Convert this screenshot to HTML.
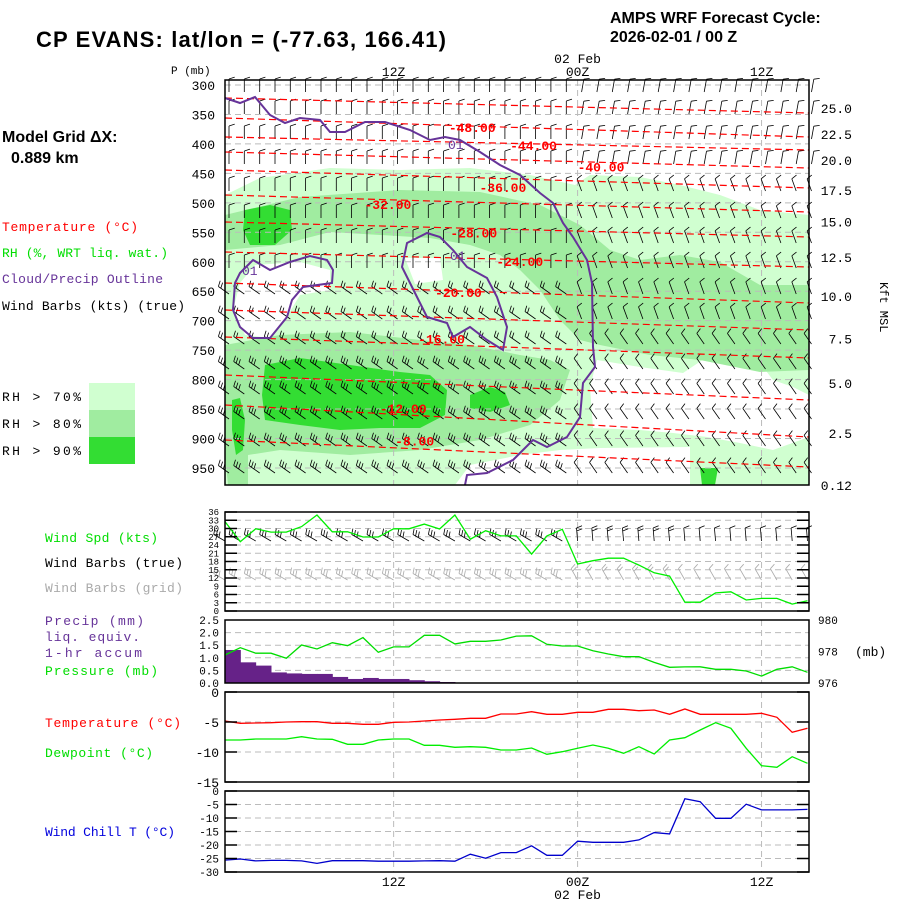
<!DOCTYPE html>
<html><head><meta charset="utf-8"><style>
html,body{margin:0;padding:0;background:#fff;}
svg{display:block;}
text{font-family:"Liberation Mono",monospace;}
.t{font-family:"Liberation Sans",sans-serif;font-weight:bold;}
</style></head><body>
<svg id="chart" xmlns="http://www.w3.org/2000/svg" width="900" height="900" viewBox="0 0 900 900">
<rect x="0" y="0" width="900" height="900" fill="#fff"/>
<text class="t" x="36" y="47" font-size="22" textLength="410">CP EVANS:  lat/lon = (-77.63, 166.41)</text>
<text class="t" x="610" y="23" font-size="16">AMPS WRF Forecast Cycle:</text>
<text class="t" x="610" y="42" font-size="16">2026-02-01 / 00  Z</text>
<text class="t" x="2" y="142" font-size="16">Model Grid ΔX:</text>
<text class="t" x="11" y="163" font-size="16">0.889 km</text>
<g font-size="13">
<text x="2" y="231" fill="#ff0000" textLength="136">Temperature (°C)</text>
<text x="2" y="257" fill="#00dd00" textLength="166">RH (%, WRT liq. wat.)</text>
<text x="2" y="283" fill="#663399" textLength="161">Cloud/Precip Outline</text>
<text x="2" y="310" fill="#000" textLength="183">Wind Barbs (kts) (true)</text>
<text x="2" y="401" fill="#000" textLength="79">RH &gt; 70%</text>
<text x="2" y="428" fill="#000" textLength="79">RH &gt; 80%</text>
<text x="2" y="455" fill="#000" textLength="79">RH &gt; 90%</text>
<rect x="89" y="383" width="46" height="27" fill="#d0ffd0"/>
<rect x="89" y="410" width="46" height="27" fill="#a0eca0"/>
<rect x="89" y="437" width="46" height="27" fill="#33dd33"/>
</g>
<g font-size="13">
<text x="45" y="542" fill="#00dd00" textLength="113">Wind Spd (kts)</text>
<text x="45" y="567" fill="#000" textLength="138">Wind Barbs (true)</text>
<text x="45" y="592" fill="#aaaaaa" textLength="138">Wind Barbs (grid)</text>
<text x="45" y="625" fill="#663399" textLength="99">Precip (mm)</text>
<text x="45" y="641" fill="#663399" textLength="95">liq. equiv.</text>
<text x="45" y="657" fill="#663399" textLength="97">1-hr accum</text>
<text x="45" y="675" fill="#00dd00" textLength="113">Pressure (mb)</text>
<text x="45" y="727" fill="#ff0000" textLength="136">Temperature (°C)</text>
<text x="45" y="757" fill="#00dd00" textLength="108">Dewpoint (°C)</text>
<text x="45" y="836" fill="#0000dd" textLength="130">Wind Chill T (°C)</text>
</g>
<g id="layer"></g>
</svg>
<script>
// ---- data (hourly, starting 01Z 01 Feb) ----
const hourLabels = [1,2,3,4,5,6,7,8,9,10,11,12,13,14,15,16,17,18,19,20,21,22,23,24,25,26,27,28,29,30,31,32,33,34,35,36,37,38,39];
const windSpd = [32.5,25.2,29.9,28.7,28.7,30.7,34.9,28.8,28.8,26.9,26.9,29.9,29.9,31.6,29.8,34.9,26.1,29.2,27.3,27.3,20.7,27.3,29.7,17.1,18.3,19.2,19.2,16.7,13.9,12.7,3.2,3.2,6.6,7.0,4.0,4.6,4.6,2.5,3.7];
const pressure = [977.78,978.24,977.89,977.89,977.57,978.41,978.16,978.56,978.37,978.88,977.95,978.29,978.29,979.03,979.03,978.48,978.65,978.65,978.73,978.98,979.0,978.46,978.35,978.35,978.05,977.84,977.67,977.67,977.31,977.0,977.02,977.03,976.87,976.87,976.76,976.44,976.87,977.03,976.68];
const precip = [1.31,0.82,0.69,0.42,0.38,0.36,0.36,0.24,0.16,0.2,0.16,0.16,0.11,0.07,0.04,0.02,0,0,0,0,0,0,0,0,0,0,0,0,0,0,0,0,0,0,0,0,0,0,0];
const temp = [-4.83,-5.22,-5.17,-5.12,-5.0,-4.95,-4.95,-5.22,-5.22,-5.38,-5.38,-5.05,-5.0,-4.83,-4.67,-4.55,-4.38,-4.38,-3.67,-3.67,-3.28,-3.72,-3.72,-3.38,-3.38,-2.88,-2.88,-3.12,-3.0,-3.72,-2.83,-3.72,-3.72,-3.72,-3.72,-3.55,-4.22,-6.72,-6.05];
const dewpt = [-8.0,-8.0,-7.83,-7.83,-7.83,-7.45,-7.83,-7.88,-8.72,-8.72,-8.0,-7.83,-7.83,-8.88,-8.88,-9.22,-9.12,-9.22,-9.67,-9.67,-9.33,-10.38,-9.95,-9.38,-8.83,-9.38,-10.22,-9.12,-10.33,-8.0,-7.62,-6.33,-5.12,-6.05,-9.38,-12.28,-12.55,-10.78,-11.88];
const windChill = [-25.6,-25.2,-25.9,-25.7,-25.7,-25.9,-26.8,-25.8,-25.8,-25.8,-26.0,-26.0,-26.0,-25.9,-25.8,-26.0,-23.4,-24.9,-22.8,-22.8,-20.3,-23.8,-23.8,-18.6,-19.0,-19.0,-19.0,-18.1,-15.4,-15.9,-2.85,-3.96,-10.1,-10.1,-4.9,-7.0,-7.0,-7.0,-6.8];
const pLevels = [300,350,400,450,500,550,600,650,700,750,800,850,900,950];
const kftLabels = ["25.0","22.5","20.0","17.5","15.0","12.5","10.0","7.5","5.0","2.5","0.12"];
const kftP = [339,383,427,478,532,592,658,730,806,891,979];
const windTicks = [36,33,30,27,24,21,18,15,12,9,6,3,0];
const precipTicks = [2.5,2.0,1.5,1.0,0.5,0.0];
const pressTicks = [980,978,976];
const tempTicks = [0,-5,-10,-15];
const wcTicks = [0,-5,-10,-15,-20,-25,-30];
const isoLabels = ["-48.00","-44.00","-40.00","-36.00","-32.00","-28.00","-24.00","-20.00","-16.00","-12.00","-8.00"];
const isoLabelHour = [15.6,19.6,24.0,17.6,10.1,15.7,18.7,14.7,13.6,11.1,12.1];
const isoLabelP = [371,402,438,473,502,550,599,651,730,848,903];

// ---- layout / axes ----
const X0=225, DX=15.33;
const NS='http://www.w3.org/2000/svg';
const L=document.getElementById('layer');
function x(i){return X0+i*DX;}
function xh(h){return X0+(h-1)*DX;}
function yP(p){return 85+(p-300)/50*29.46;}
function yW(v){return 611-v*99/36;}
function yPr(v){return 683-v*63/2.5;}
function yPs(p){return 683-(p-976)*63/4;}
function yT(t){return 692-t*6;}
function yWC(t){return 791-t*2.7;}
function el(tag,attrs,parent){const e=document.createElementNS(NS,tag);for(const k in attrs)e.setAttribute(k,attrs[k]);(parent||L).appendChild(e);return e;}
function txt(s,xx,yy,attrs,parent){const e=el('text',Object.assign({x:xx,y:yy},attrs),parent);e.textContent=s;return e;}
function pts(arr,yf){return arr.map((v,i)=>x(i).toFixed(1)+','+yf(v).toFixed(1)).join(' ');}

// ---- top panel: RH fills ----
const gRH=el('g',{});


function poly(p,fill,name){const e=el('polygon',{points:p,fill:fill},gRH);return e;}
poly('225,195 260,178 330,168 400,170 470,168 530,175 575,185 590,175 640,177 680,185 720,195 760,210 809,215 809,485 225,485','#d0ffd0','rh70-region');
poly('240,283 255,265 300,262 330,270 330,290 300,295 285,320 270,338 245,335 233,310','#fff','rh-dry-left');
poly('405,258 440,258 443,280 415,284','#fff','rh-dry-center');
poly('597,360 640,367 683,373 707,357 740,353 760,363 773,380 793,387 809,395 809,437 773,450 740,443 707,437 673,433 640,430 593,428 590,387','#fff','rh-dry-right');
poly('455,485 470,465 520,455 560,450 600,448 690,447 690,485','#fff','rh-dry-bottom');
poly('225,215 300,197 400,190 480,192 540,205 580,225 610,250 640,260 680,255 720,262 760,285 809,285 809,370 760,372 700,360 650,355 600,345 580,340 560,320 540,290 520,270 500,255 470,245 430,238 380,235 330,232 280,245 225,250','#a0eca0','rh80-upper');
poly('225,345 280,335 350,332 420,340 470,345 520,355 550,360 570,370 560,400 530,425 480,440 420,450 350,455 280,450 248,455 248,485 228,485 225,455','#a0eca0','rh80-lower');
poly('245,210 270,205 290,210 292,230 275,245 250,245 243,230','#33dd33','rh90-a');
poly('265,365 300,358 350,365 400,372 430,375 447,390 445,415 420,428 380,428 340,430 300,425 265,420 262,395','#33dd33','rh90-b');
poly('470,395 490,387 505,392 510,405 490,412 470,408','#33dd33','rh90-c');
poly('232,400 240,398 245,420 243,450 236,455 232,430','#33dd33','rh90-d');
poly('700,468 718,468 715,485 702,485','#33dd33','rh90-e');

// ---- grids ----
const gGrid=el('g',{stroke:'#bbbbbb','stroke-dasharray':'6,4','stroke-width':1});


pLevels.forEach(p=>el('line',{x1:X0,x2:809,y1:yP(p),y2:yP(p)},gGrid));
windTicks.forEach(v=>el('line',{x1:X0,x2:809,y1:yW(v),y2:yW(v)},gGrid));
precipTicks.forEach(v=>el('line',{x1:X0,x2:809,y1:yPr(v),y2:yPr(v)},gGrid));
tempTicks.forEach(v=>el('line',{x1:X0,x2:809,y1:yT(v),y2:yT(v)},gGrid));
wcTicks.forEach(v=>el('line',{x1:X0,x2:809,y1:yWC(v),y2:yWC(v)},gGrid));
[12,24,36].forEach(h=>{const xx=xh(h);[[80,485],[512,611],[620,683],[692,782],[791,872]].forEach(r=>el('line',{x1:xx,x2:xx,y1:r[0],y2:r[1]},gGrid));});

// ---- wind barbs ----
function barb(g,bx,by,ang,n){
  const r=ang*Math.PI/180,L1=13,ex=bx+Math.cos(r)*L1,ey=by+Math.sin(r)*L1;
  const b=el('path',{d:''},g);
  let d=`M${bx.toFixed(1)},${by.toFixed(1)}L${ex.toFixed(1)},${ey.toFixed(1)}`;
  const fr=r+Math.PI*0.4;
  for(let k=0;k<n;k++){const sx=ex-Math.cos(r)*3*k,sy=ey-Math.sin(r)*3*k;d+=`M${sx.toFixed(1)},${sy.toFixed(1)}l${(Math.cos(fr)*6).toFixed(1)},${(Math.sin(fr)*6).toFixed(1)}`;}
  b.setAttribute('d',d);
  
  
}
const rowsY=[86,108,133,158,185,212,237,262,288,313,338,363,388,413,440,467];
const gB=el('g',{stroke:'#000','stroke-width':0.8,fill:'none'});


rowsY.forEach((yy,r)=>{for(let c=0;c<39;c++){
  let ang,n;
  if(c<=22){ if(r<=7){ang=-90;n=1;} else {ang=-145;n=r>=11?3:2;} }
  else { if(r<=3){ang=-80;n=1;} else if(r<=9){ang=-110;n=1;} else {ang=-125;n=1;} }
  barb(gB,x(c)+4,yy+6,ang,n);
}});

// ---- isotherms ----
const isoY=[[98,113],[118,137],[137,150],[152,168],[170,188],[195,212],[222,237],[252,267],[283,303],[310,330],[337,358],[375,400],[405,437],[440,467]];
const gIso=el('g',{stroke:'#ff0000','stroke-dasharray':'7,4','stroke-width':1.2,fill:'none'});


isoY.forEach(a=>{const m=(a[0]+a[1])/2;el('path',{d:`M${X0},${a[0]} Q517,${m} 809,${a[1]}`},gIso);});
const gIsoL=el('g',{fill:'#ff0000','font-size':13,'font-weight':'bold'});


isoLabels.forEach((s,i)=>txt(s,xh(isoLabelHour[i]),yP(isoLabelP[i])+5,{'font-family':'Liberation Sans, sans-serif'},gIsoL));

// ---- cloud outline ----
const gCl=el('g',{stroke:'#663399','stroke-width':2,fill:'none'});


el('polyline',{points:'225,98 240,103 255,97 270,115 285,123 300,118 320,120 330,132 345,132 365,122 385,122 410,130 430,140 445,137 460,140 480,152 500,165 520,175 540,193 553,203 563,223 573,237 587,260 592,283 593,347 595,367 583,383 580,417 567,437 547,447 533,440 513,460 487,473 467,475 465,485'},gCl);
el('polygon',{points:'427,233 440,237 453,250 467,267 487,278 497,297 507,327 503,350 487,340 470,327 453,337 447,323 427,317 420,303 407,277 402,267 407,243'},gCl);
el('polygon',{points:'240,273 253,260 270,270 290,262 310,256 327,260 333,270 332,283 303,287 292,300 287,317 270,338 253,338 240,327 233,310 235,283'},gCl);
const gClL=el('g',{fill:'#663399','font-size':13,'font-family':'Liberation Sans, sans-serif'});


txt('01',448,149,{},gClL);txt('01',450,260,{},gClL);txt('01',242,275,{},gClL);

// ---- lower barbs ----
const gLB=el('g',{stroke:'#000','stroke-width':0.8,fill:'none'});


const gGB=el('g',{stroke:'#aaaaaa','stroke-width':0.8,fill:'none'});


for(let c=0;c<39;c++){
  const n=windSpd[c]>20?3:(windSpd[c]>8?2:1);
  barb(gLB,x(c),541,c<23?-150:-95,n);
  barb(gGB,x(c),580,c<23?-150:-120,n);
}

// ---- lower panel series ----
function line(arr,yf,col,name){const e=el('polyline',{points:pts(arr,yf),fill:'none',stroke:col,'stroke-width':1.3});}
const gPr=el('g',{fill:'#662288'});


precip.forEach((v,i)=>{if(v>0){const b=el('rect',{x:x(i),y:yPr(v),width:DX+0.5,height:683-yPr(v)},gPr);

}});
line(windSpd,yW,'#00ee00','wind-speed-line');
line(pressure,yPs,'#00dd00','pressure-line');
line(temp,yT,'#ff0000','temperature-line');
line(dewpt,yT,'#00ee00','dewpoint-line');
line(windChill,yWC,'#0000cc','wind-chill-line');

// ---- frames & ticks ----
const gF=el('g',{fill:'none',stroke:'#000','stroke-width':1.5});


[[80,485],[512,611],[620,683],[692,782],[791,872]].forEach(r=>el('rect',{x:X0,y:r[0],width:809-X0,height:r[1]-r[0]},gF));
const gT=el('g',{stroke:'#000','stroke-width':1.5});


windTicks.forEach(v=>{el('line',{x1:X0,x2:X0+12,y1:yW(v),y2:yW(v)},gT);el('line',{x1:797,x2:809,y1:yW(v),y2:yW(v)},gT);});
tempTicks.forEach(v=>{el('line',{x1:X0,x2:X0+12,y1:yT(v),y2:yT(v)},gT);el('line',{x1:797,x2:809,y1:yT(v),y2:yT(v)},gT);});
wcTicks.forEach(v=>{el('line',{x1:X0,x2:X0+12,y1:yWC(v),y2:yWC(v)},gT);el('line',{x1:797,x2:809,y1:yWC(v),y2:yWC(v)},gT);});

// ---- axis labels ----
const gA=el('g',{fill:'#000','font-size':13});


txt('P (mb)',171,74,{'font-size':11},gA);
pLevels.forEach(p=>txt(String(p),215,yP(p)+5,{'text-anchor':'end'},gA));
kftLabels.forEach((s,i)=>txt(s,852,yP(kftP[i])+5,{'text-anchor':'end'},gA));
txt('Kft MSL',880,282,{transform:'rotate(90 880 282)','font-size':12},gA);
windTicks.forEach(v=>txt(String(v),219,yW(v)+3,{'text-anchor':'end','font-size':9},gA));
precipTicks.forEach(v=>txt(v.toFixed(1),219,yPr(v)+4,{'text-anchor':'end','font-size':11},gA));
pressTicks.forEach(v=>txt(String(v),818,yPs(v)+4,{'font-size':11},gA));
txt('(mb)',855,656,{},gA);
tempTicks.forEach(v=>txt(String(v),219,yT(v)+5,{'text-anchor':'end'},gA));
wcTicks.forEach(v=>txt(String(v),219,yWC(v)+4,{'text-anchor':'end','font-size':11},gA));
txt('12Z',xh(12),76,{'text-anchor':'middle'},gA);
txt('00Z',xh(24),76,{'text-anchor':'middle'},gA);
txt('02 Feb',xh(24),63,{'text-anchor':'middle'},gA);
txt('12Z',xh(36),76,{'text-anchor':'middle'},gA);
txt('12Z',xh(12),886,{'text-anchor':'middle'},gA);
txt('00Z',xh(24),886,{'text-anchor':'middle'},gA);
txt('02 Feb',xh(24),899,{'text-anchor':'middle'},gA);
txt('12Z',xh(36),886,{'text-anchor':'middle'},gA);
</script>
</body></html>
